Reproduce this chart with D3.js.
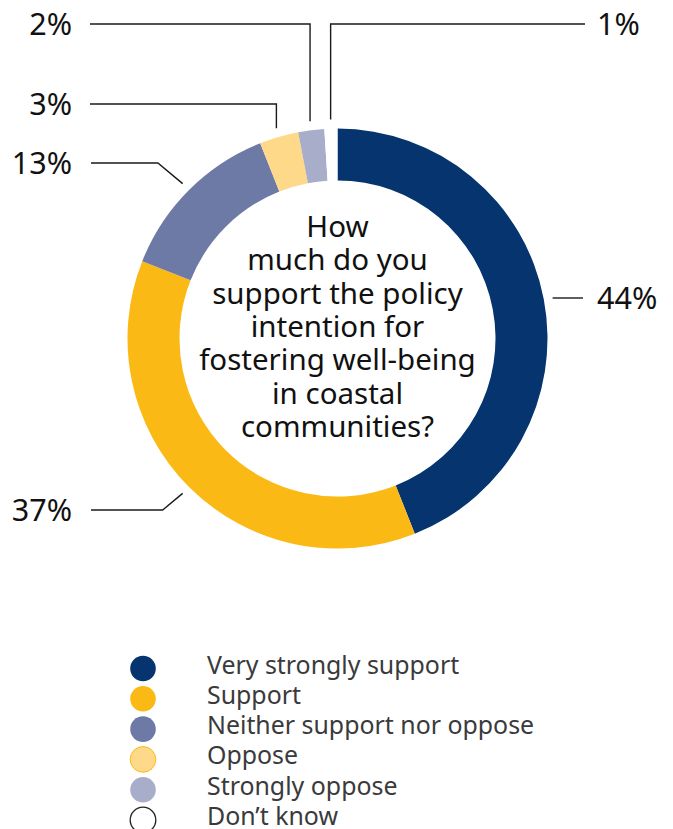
<!DOCTYPE html>
<html>
<head>
<meta charset="utf-8">
<script src="https://cdn.jsdelivr.net/npm/d3@7"></script>
<style>
  html, body { margin: 0; padding: 0; background: #fff; }
  svg { display: block; font-family: "Noto Sans", "Open Sans", sans-serif; }
</style>
</head>
<body>
<svg id="chart" width="673" height="829"></svg>
<script>
// Survey responses (percent of respondents)
const categories = [
  "Very strongly support",
  "Support",
  "Neither support nor oppose",
  "Oppose",
  "Strongly oppose",
  "Don\u2019t know"
];
const shares = [44, 37, 13, 3, 2, 1];
const shareLabels = ["44%", "37%", "13%", "3%", "2%", "1%"];
const colors = ["#05346f", "#fbb916", "#6e7aa6", "#fed98a", "#a8aec9", "#ffffff"];
const legendStrokes = ["none", "none", "none", "#fbb916", "none", "#222222"];
const questionLines = [
  "How",
  "much do you",
  "support the policy",
  "intention for",
  "fostering well-being",
  "in coastal",
  "communities?"
];

const svg = d3.select("#chart");
const cx = 337.5, cy = 338.5;
const rOuter = 210, rInner = 158, rLead = 219;

const data = categories.map((c, i) => ({ category: c, value: shares[i], label: shareLabels[i], color: colors[i] }));

const pie = d3.pie().sort(null).value(d => d.value).startAngle(0).endAngle(2 * Math.PI);
const arcs = pie(data);
const arc = d3.arc().innerRadius(rInner).outerRadius(rOuter);

const g = svg.append("g").attr("transform", `translate(${cx},${cy})`);

g.selectAll("path.slice")
  .data(arcs)
  .join("path")
  .attr("class", "slice")
  .attr("d", arc)
  .attr("fill", d => d.data.color);

// Leader-line layout for each slice label: label anchor y, side and route style
const labelLayout = [
  { y: 298, side: "right", route: "straight", x: 583 },
  { y: 510, side: "left", route: "diag", x: 91 },
  { y: 163, side: "left", route: "diag", x: 91 },
  { y: 104, side: "left", route: "vert", x: 90 },
  { y: 24, side: "left", route: "vert", x: 90 },
  { y: 24, side: "right", route: "vert", x: 585 }
];

const pointAt = (angle, r) => [cx + r * Math.sin(angle), cy - r * Math.cos(angle)];

const leaders = svg.append("g").attr("fill", "none").attr("stroke", "#1a1a1a").attr("stroke-width", 1.4);
const labels = svg.append("g").attr("font-size", 30.5).attr("fill", "#111");

arcs.forEach((a, i) => {
  const L = labelLayout[i];
  const mid = (a.startAngle + a.endAngle) / 2;
  const [sx, sy] = pointAt(mid, rLead);
  let pts;
  if (L.route === "straight") {
    pts = [[sx, L.y], [L.x, L.y]];
  } else if (L.route === "vert") {
    pts = [[sx, sy], [sx, L.y], [L.x, L.y]];
  } else {
    const dy = Math.abs(L.y - sy);
    const ex = L.side === "left" ? sx - dy * 1.2 : sx + dy * 1.2;
    pts = [[sx, sy], [ex, L.y], [L.x, L.y]];
  }
  leaders.append("path").attr("d", d3.line()(pts));

  labels.append("text")
    .attr("x", L.side === "left" ? 72 : 597)
    .attr("y", L.y + 11)
    .attr("text-anchor", L.side === "left" ? "end" : "start")
    .text(a.data.label);
});

// Question in the centre of the ring
svg.append("g")
  .attr("font-size", 29.5)
  .attr("fill", "#111")
  .attr("text-anchor", "middle")
  .selectAll("text")
  .data(questionLines)
  .join("text")
  .attr("x", cx)
  .attr("y", (d, i) => 237 + i * 33.35)
  .text(d => d);

// Legend
const legend = svg.append("g");
const rowY = i => 668.5 + i * 30.3;
legend.selectAll("circle")
  .data(data)
  .join("circle")
  .attr("cx", 143)
  .attr("cy", (d, i) => rowY(i))
  .attr("r", 12.8)
  .attr("fill", d => d.color)
  .attr("stroke", (d, i) => legendStrokes[i])
  .attr("stroke-width", (d, i) => i === 5 ? 1.3 : 1);
legend.selectAll("text")
  .data(data)
  .join("text")
  .attr("x", 207)
  .attr("y", (d, i) => rowY(i) + 5)
  .attr("font-size", 24.9)
  .attr("fill", "#3a3a3c")
  .text(d => d.category);
</script>
</body>
</html>
